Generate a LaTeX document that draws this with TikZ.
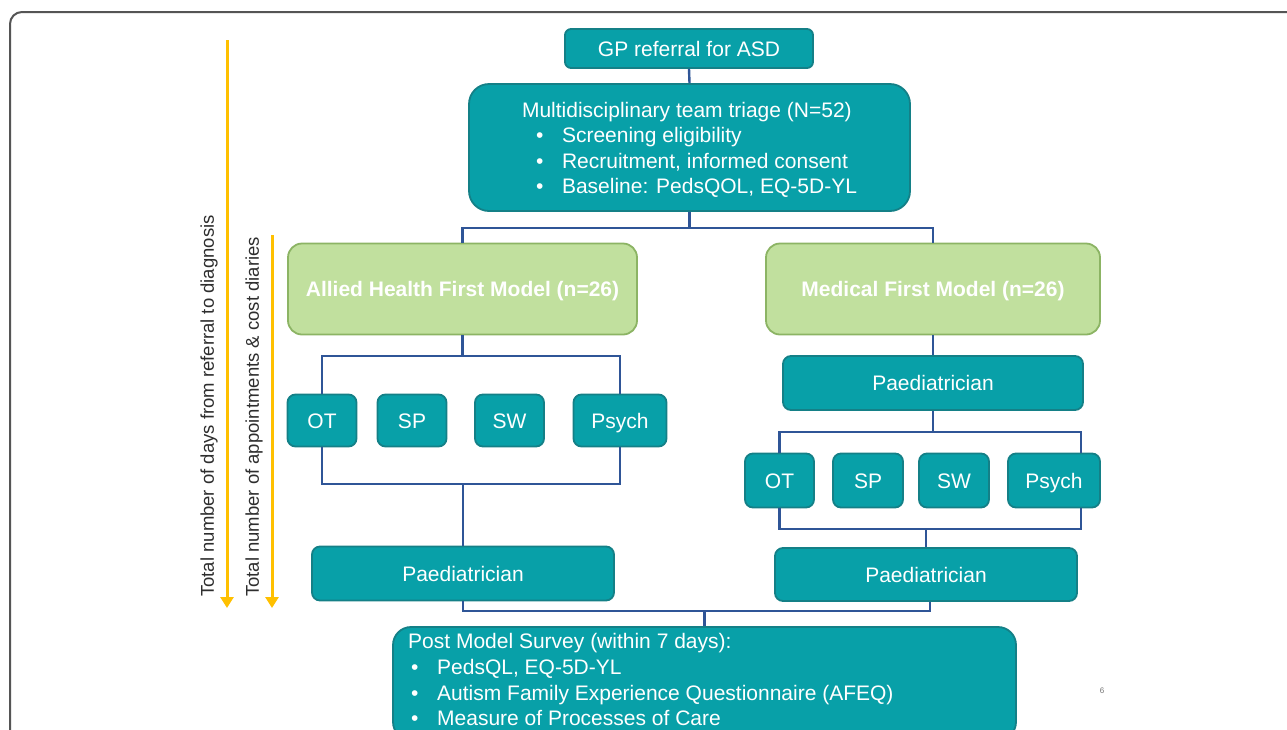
\documentclass[tikz,border=0pt]{standalone}
\usepackage{fontspec}
\setmainfont{Liberation Sans}
\usetikzlibrary{arrows.meta}
\definecolor{teal1}{RGB}{8,160,168}
\definecolor{tealbd}{RGB}{20,128,135}
\definecolor{conn}{RGB}{47,85,151}
\definecolor{grn}{RGB}{193,224,158}
\definecolor{grnbd}{RGB}{140,180,100}
\definecolor{ylw}{RGB}{255,192,0}
\definecolor{frame}{RGB}{85,85,85}
\tikzset{
  x=1pt, y=-1pt,
  tbox/.style={draw=tealbd, fill=teal1, line width=1.8pt, text=white, inner sep=0pt,
    font=\fontsize{21}{25.3}\selectfont},
  one/.style={text height=15pt, text depth=0pt},
  gbox/.style={draw=grnbd, fill=grn, line width=1.8pt, text=white, inner sep=0pt, one,
    rounded corners=14pt, minimum width=349pt, minimum height=91pt,
    font=\bfseries\fontsize{21}{25}\selectfont},
  sbox/.style={tbox, one, rounded corners=8pt, minimum width=69pt, minimum height=52pt},
  pbox/.style={tbox, one, rounded corners=8pt, minimum width=301pt, minimum height=54pt},
  cline/.style={draw=conn, line width=2.4pt},
  yarrow/.style={draw=ylw, line width=3pt, -{Triangle[length=11pt,width=13pt]}},
  vlabel/.style={rotate=90, text=black!82, font=\fontsize{18.5}{20}\selectfont, inner sep=0pt},
}
\newcommand{\blt}[1]{\hspace*{14pt}\makebox[26pt][l]{\textbullet}#1}
\newcommand{\pblt}[1]{\hspace*{3pt}\makebox[26pt][l]{\textbullet}#1}
\begin{document}
\begin{tikzpicture}
\useasboundingbox (0,0) rectangle (1287,729);
\clip (0,0) rectangle (1287,729);
\fill[white] (0,0) rectangle (1287,729);
\draw[frame, line width=2pt, rounded corners=12pt] (10,12) rectangle (1320,760);

% helper coordinates
\coordinate (y228) at (0,228);
\coordinate (y356) at (0,356);
\coordinate (y484) at (0,484);
\coordinate (y432) at (0,432);
\coordinate (y529) at (0,529);
\coordinate (y611) at (0,611);

% nodes
\node[tbox, one, rounded corners=6pt, minimum width=248pt, minimum height=39pt] (gp) at (689,48.5) {GP referral for ASD};
\node[tbox, rounded corners=20pt, minimum width=441pt, minimum height=127pt, align=left] (mdt) at (689.5,147.5)
  {\rule{0pt}{20pt}Multidisciplinary team triage (N=52)\\ \blt{Screening eligibility}\\ \blt{Recruitment, informed consent}\\ \blt{Baseline: PedsQOL, EQ-5D-YL}};
\node[gbox] (ahm) at (462.5,289) {Allied Health First Model (n=26)};
\node[gbox, minimum width=334pt] (mfm) at (933,289) {Medical First Model (n=26)};

\node[sbox] (lot) at (322,420.5) {OT};
\node[sbox] (lsp) at (412,420.5) {SP};
\node[sbox] (lsw) at (509.5,420.5) {SW};
\node[sbox, minimum width=93pt] (lps) at (620,420.5) {Psych};
\node[pbox, minimum width=302pt] (lpaed) at (463,573.5) {Paediatrician};

\node[pbox, minimum width=300pt] (rpaed1) at (933,383) {Paediatrician};
\node[sbox, minimum height=54pt] (rot) at (779.5,480.5) {OT};
\node[sbox, minimum height=54pt, minimum width=70pt] (rsp) at (868,480.5) {SP};
\node[sbox, minimum height=54pt, minimum width=70pt] (rsw) at (954,480.5) {SW};
\node[sbox, minimum height=54pt, minimum width=92pt] (rps) at (1054,480.5) {Psych};
\node[pbox, minimum width=302pt, minimum height=53pt] (rpaed2) at (926,574.5) {Paediatrician};

\node[tbox, rounded corners=18pt, minimum width=623pt, minimum height=113pt] (post) at (704.5,683.5) {};
\node[anchor=north west, align=left, inner sep=0pt, text=white, font=\fontsize{21}{25.6}\selectfont] (posttxt) at (408,633.5)
  {Post Model Survey (within 7 days):\\ \pblt{PedsQL, EQ-5D-YL}\\ \pblt{Autism Family Experience Questionnaire (AFEQ)}\\ \pblt{Measure of Processes of Care}};

% connectors
\coordinate (j1) at (mdt.south |- y228);
\draw[cline] (gp.south) -- (mdt.north);
\draw[cline] (mdt.south) -- (j1);
\draw[cline] (ahm.north) |- (j1) -| (mfm.north);

\coordinate (lj1) at (ahm.south |- y356);
\draw[cline] (ahm.south) -- (lj1);
\draw[cline] (lot.north) |- (lj1) -| (lps.north);
\coordinate (lj2) at (lpaed.north |- y484);
\draw[cline] (lot.south) |- (lj2) -| (lps.south);
\draw[cline] (lj2) -- (lpaed.north);

\draw[cline] (mfm.south) -- (rpaed1.north);
\coordinate (rj1) at (rpaed1.south |- y432);
\draw[cline] (rpaed1.south) -- (rj1);
\draw[cline] (rot.north) |- (rj1) -| ([xshift=27pt]rps.north);
\coordinate (rj2) at (rpaed2.north |- y529);
\draw[cline] (rot.south) |- (rj2) -| ([xshift=27pt]rps.south);
\draw[cline] (rj2) -- (rpaed2.north);

\coordinate (bj) at (post.north |- y611);
\draw[cline] (lpaed.south) |- (bj) -| ([xshift=4pt]rpaed2.south);
\draw[cline] (bj) -- (post.north);

% side arrows and labels
\coordinate (a1s) at (227,40);
\coordinate (a1e) at (227,608);
\coordinate (a2s) at (272,235);
\coordinate (a2e) at (272,608);
\draw[yarrow] (a1s) -- (a1e);
\draw[yarrow] (a2s) -- (a2e);
\node[vlabel] (lab1) at (209,406) {Total number of days from referral to diagnosis};
\node[vlabel] (lab2) at (254,417) {Total number of appointments \& cost diaries};

\node[text=black!55, font=\fontsize{8}{8}\selectfont, inner sep=0pt] (pg) at (1102,691) {6};
\end{tikzpicture}
\end{document}
